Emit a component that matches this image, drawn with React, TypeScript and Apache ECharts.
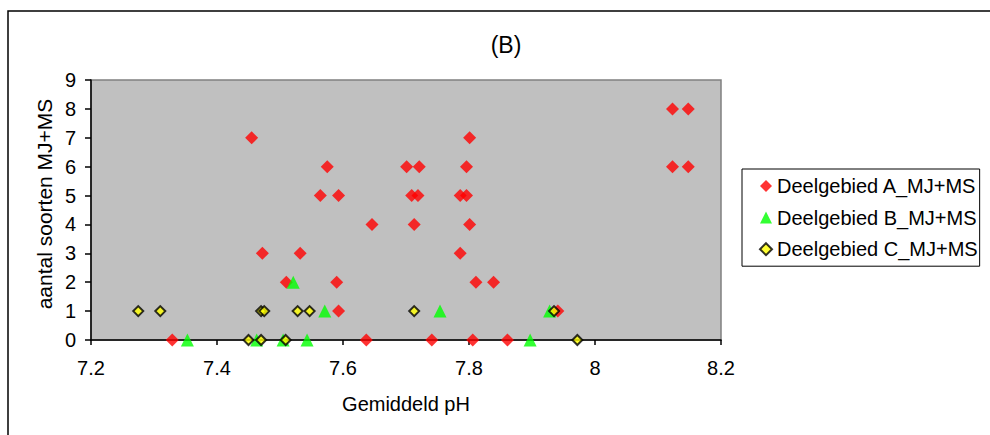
import React, { useEffect, useRef } from "react";
import * as echarts from "echarts";

const xTicks = [7.2, 7.4, 7.6, 7.8, 8.0, 8.2];
const yTicks = [0, 1, 2, 3, 4, 5, 6, 7, 8, 9];

const seriesNames = ["Deelgebied A_MJ+MS", "Deelgebied B_MJ+MS", "Deelgebied C_MJ+MS"];

const phA = [7.329, 7.637, 7.741, 7.806, 7.861, 7.593, 7.941, 7.51, 7.59, 7.811, 7.839, 7.472, 7.532, 7.786, 7.646, 7.713, 7.801, 7.564, 7.593, 7.709, 7.719, 7.786, 7.796, 7.575, 7.701, 7.721, 7.796, 8.123, 8.148, 7.455, 7.801, 8.123, 8.148];
const countA = [0, 0, 0, 0, 0, 1, 1, 2, 2, 2, 2, 3, 3, 3, 4, 4, 4, 5, 5, 5, 5, 5, 5, 6, 6, 6, 6, 6, 6, 7, 7, 8, 8];

const phB = [7.353, 7.463, 7.505, 7.543, 7.521, 7.571, 7.754, 7.897, 7.928];
const countB = [0, 0, 0, 0, 2, 1, 1, 0, 1];

const phC = [7.275, 7.31, 7.47, 7.475, 7.528, 7.547, 7.713, 7.935, 7.45, 7.47, 7.509, 7.972];
const countC = [1, 1, 1, 1, 1, 1, 1, 1, 0, 0, 0, 0];

const zip = (xs: number[], ys: number[]) => xs.map((x, i) => [x, ys[i]]);

const FONT = "Liberation Sans, Arial, sans-serif";

export default function App() {
  const ref = useRef<HTMLDivElement>(null);
  useEffect(() => {
    if (!ref.current) return;
    const chart = echarts.init(ref.current, undefined, { renderer: "svg" });
    chart.setOption({
      animation: false,
      backgroundColor: "#ffffff",
      textStyle: { fontFamily: FONT },
      grid: {
        left: 91,
        top: 80,
        right: 990 - 721,
        bottom: 435 - 340,
        show: true,
        backgroundColor: "#C0C0C0",
        borderColor: "#808080",
        borderWidth: 1.5,
      },
      graphic: [
        {
          type: "rect",
          z: -10,
          shape: { x: 8, y: 11, width: 1000, height: 450 },
          style: { fill: "none", stroke: "#000000", lineWidth: 1.5 },
        },
        {
          type: "text",
          x: 506,
          y: 45,
          style: {
            text: "(B)",
            fontFamily: FONT,
            fontSize: 23,
            fill: "#000000",
            align: "center",
            verticalAlign: "middle",
          },
        },
        {
          type: "text",
          x: 44,
          y: 204,
          rotation: Math.PI / 2,
          style: {
            text: "aantal soorten MJ+MS",
            fontFamily: FONT,
            fontSize: 21,
            fill: "#000000",
            align: "center",
            verticalAlign: "middle",
          },
        },
      ],
      legend: {
        orient: "vertical",
        left: 742,
        top: 169,
        padding: [7, 2, 7, 17],
        itemGap: 11.6,
        itemWidth: 12,
        itemHeight: 12,
        borderColor: "#000000",
        borderWidth: 1,
        backgroundColor: "#ffffff",
        textStyle: { fontFamily: FONT, fontSize: 20, color: "#000000", lineHeight: 20 },
        data: seriesNames,
      },
      xAxis: {
        type: "value",
        min: xTicks[0],
        max: xTicks[xTicks.length - 1],
        interval: 0.2,
        name: "Gemiddeld pH",
        nameLocation: "middle",
        nameGap: 54,
        nameTextStyle: { fontFamily: FONT, fontSize: 20, color: "#000000" },
        axisLine: { show: true, onZero: false, lineStyle: { color: "#000000", width: 1.5 } },
        axisTick: { show: true, inside: false, length: 5, lineStyle: { color: "#000000", width: 1.5 } },
        axisLabel: {
          margin: 18,
          fontFamily: FONT,
          fontSize: 20,
          color: "#000000",
          formatter: (v: number) => String(+v.toFixed(1)),
        },
        splitLine: { show: false },
      },
      yAxis: {
        type: "value",
        min: yTicks[0],
        max: yTicks[yTicks.length - 1],
        interval: 1,
        axisLine: { show: true, onZero: false, lineStyle: { color: "#000000", width: 1.5 } },
        axisTick: { show: true, inside: false, length: 6, lineStyle: { color: "#000000", width: 1.5 } },
        axisLabel: { margin: 15, fontFamily: FONT, fontSize: 20, color: "#000000" },
        splitLine: { show: false },
      },
      series: [
        {
          name: seriesNames[0],
          type: "scatter",
          symbol: "diamond",
          symbolSize: 13,
          itemStyle: { color: "#FF0000" },
          data: zip(phA, countA),
        },
        {
          name: seriesNames[1],
          type: "scatter",
          symbol: "triangle",
          symbolSize: 13,
          itemStyle: { color: "#00FF00" },
          data: zip(phB, countB),
        },
        {
          name: seriesNames[2],
          type: "scatter",
          symbol: "diamond",
          symbolSize: 10,
          itemStyle: { color: "#FFFF00", borderColor: "#000000", borderWidth: 2 },
          data: zip(phC, countC),
        },
      ],
    });
    return () => chart.dispose();
  }, []);
  return (
    <div
      ref={ref}
      style={{ position: "fixed", left: 0, top: 0, width: 990, height: 435 }}
    />
  );
}
